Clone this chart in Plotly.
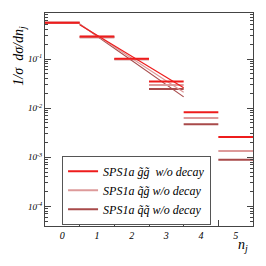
import plotly.graph_objects as go

# bins (n_j) and histogram values for the three samples
bin_lo = [-0.5, 0.5, 1.5, 2.5, 3.5, 4.5]
bin_hi = [0.5, 1.5, 2.5, 3.5, 4.5, 5.5]
gg_vals = [0.55, 0.29, 0.102, 0.035, 0.0083, 0.0026]
qg_vals = [0.55, 0.285, 0.100, 0.0295, 0.0063, 0.00135]
qq_vals = [0.55, 0.28, 0.099, 0.0245, 0.0047, 0.00089]

# straight fit lines
fit_x = [0.5, 3.5]
gg_fit = [0.50, 0.026]
qg_fit = [0.51, 0.021]
qq_fit = [0.52, 0.017]

names = ["<i>SPS1a g\u0303g\u0303  w/o decay</i>",
         "<i>SPS1a q\u0303g\u0303 w/o decay</i>",
         "<i>SPS1a q\u0303q\u0303 w/o decay</i>"]
colors = ["#ee1c1c", "#dd9a9a", "#a84a4a"]

x_labels = ["<i>0</i>", "<i>1</i>", "<i>2</i>", "<i>3</i>", "<i>4</i>", "<i>5</i>"]
x_label_pos = [0, 1, 2, 3, 4, 5]
x_tick_pos = [0.5, 1.5, 2.5, 3.5, 4.5]
y_decades = [1e-4, 1e-3, 1e-2, 1e-1]
y_labels = ["<i>10<sup>-4</sup></i>", "<i>10<sup>-3</sup></i>",
            "<i>10<sup>-2</sup></i>", "<i>10<sup>-1</sup></i>"]

fig = go.Figure()
series = [gg_vals, qg_vals, qq_vals]
fits = [gg_fit, qg_fit, qq_fit]
for i in [2, 1, 0]:
    xs, ys = [], []
    for lo, hi, v in zip(bin_lo, bin_hi, series[i]):
        xs += [lo, hi, None]
        ys += [v, v, None]
    fig.add_trace(go.Scatter(x=xs, y=ys, mode="lines", name=names[i],
                             line=dict(color=colors[i], width=2),
                             legendrank=i + 1, connectgaps=False))
    fig.add_trace(go.Scatter(x=fit_x, y=fits[i], mode="lines", showlegend=False,
                             line=dict(color=colors[i], width=1.2)))

font_it = "Liberation Serif, Times New Roman, serif"
# page body adds an 8px offset, so margins are shifted to compensate
fig.update_layout(
    width=266, height=266,
    margin=dict(l=37, r=21, t=5, b=48, autoexpand=False),
    paper_bgcolor="white", plot_bgcolor="white",
    showlegend=True,
    legend=dict(x=0.082, y=0.33, xanchor="left", yanchor="top",
                bordercolor="#555", borderwidth=1, bgcolor="white",
                font=dict(family=font_it, size=12, color="black"),
                tracegroupgap=0, itemwidth=30),
    xaxis=dict(range=[-0.5, 5.5], tickvals=x_label_pos, ticktext=x_labels,
               ticks="", showgrid=False, zeroline=False, automargin=False,
               showline=True, linecolor="#444", linewidth=1, mirror=True,
               tickfont=dict(family=font_it, size=10, color="black"),
               minor=dict(tickmode="array", tickvals=x_tick_pos, ticks="inside",
                          ticklen=6, tickcolor="#444", showgrid=False)),
    yaxis=dict(type="log", range=[-4.40, -0.061], tickvals=y_decades, ticktext=y_labels,
               ticks="inside", ticklen=6, tickcolor="#444", showgrid=False,
               automargin=False,
               showline=True, linecolor="#444", linewidth=1, mirror="ticks",
               tickfont=dict(family=font_it, size=9, color="black"),
               minor=dict(ticks="inside", ticklen=3, tickcolor="#444",
                          dtick="D1", showgrid=False)),
)
fig.add_annotation(text="<i>1/\u03c3  d\u03c3/dn<sub>j</sub></i>", xref="paper", yref="paper",
                   x=-0.12, y=0.80, xanchor="center", yanchor="middle",
                   textangle=-90, showarrow=False,
                   font=dict(family=font_it, size=14, color="black"))
fig.add_annotation(text="<i>n<sub>j</sub></i>", xref="paper", yref="paper",
                   x=0.95, y=-0.09, xanchor="center", yanchor="middle", showarrow=False,
                   font=dict(family=font_it, size=14, color="black"))
fig.write_html("out.html")
